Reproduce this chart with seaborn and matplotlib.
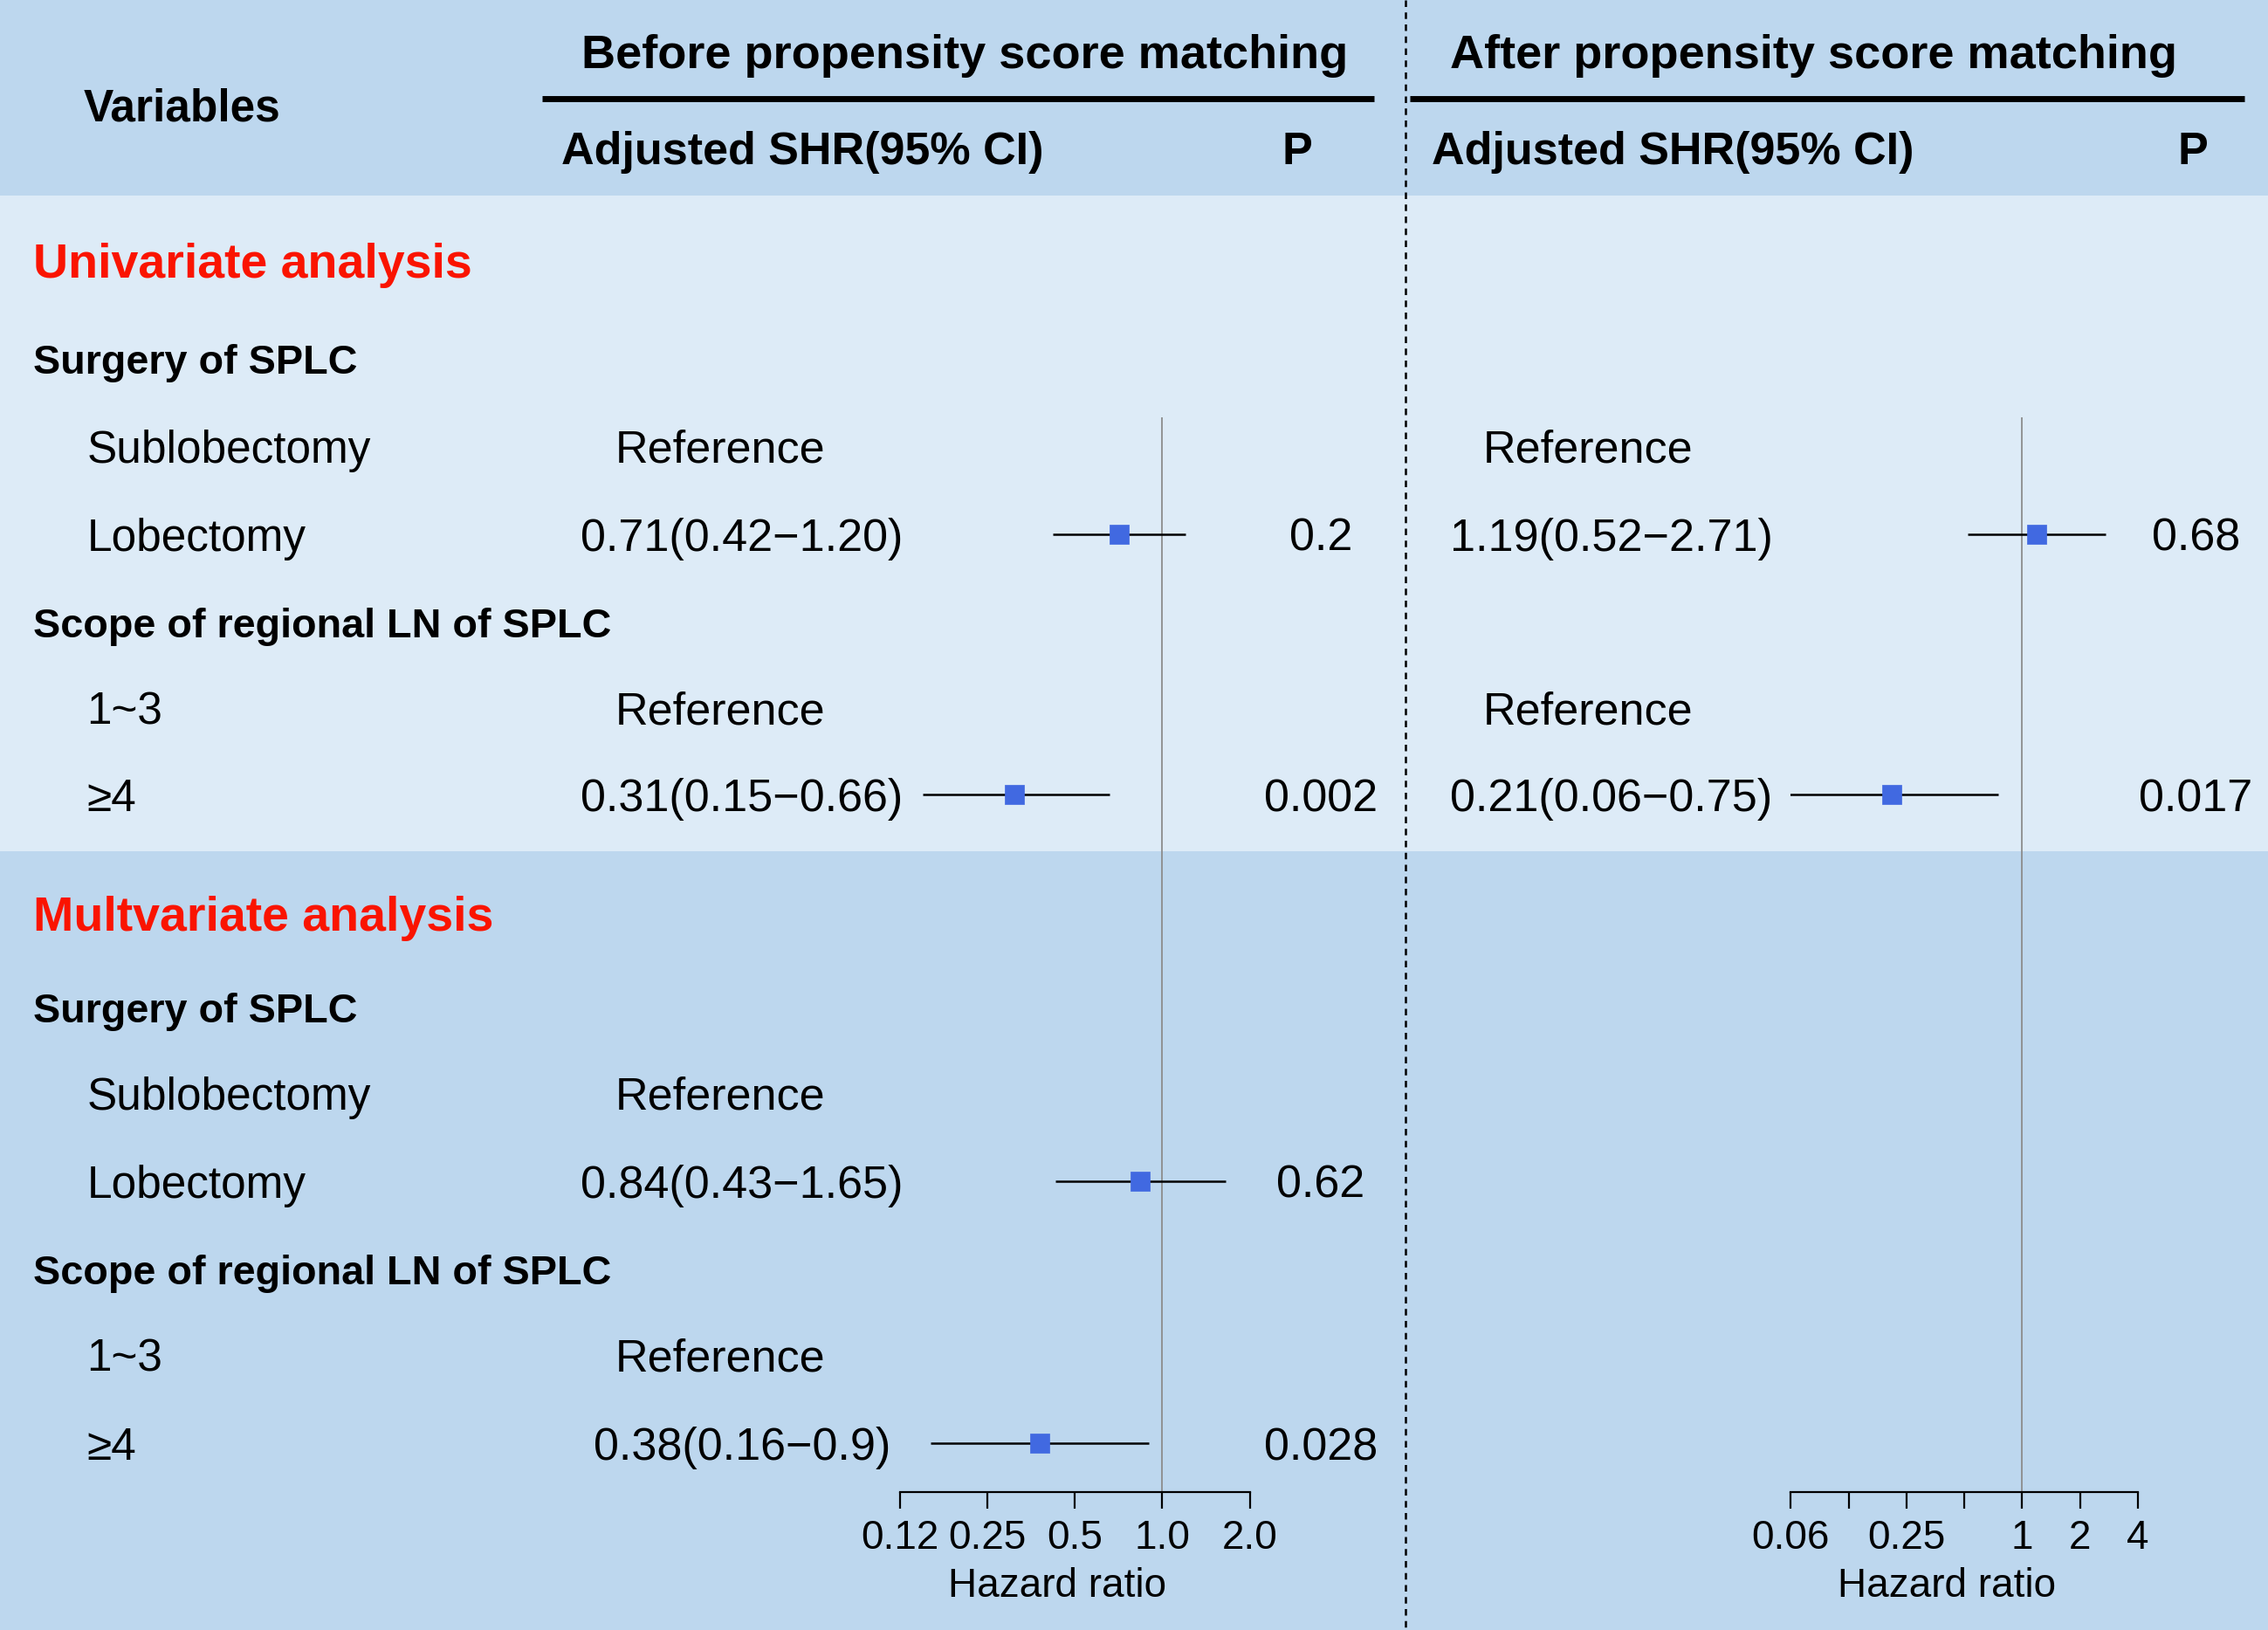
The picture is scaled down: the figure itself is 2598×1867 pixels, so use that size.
"""
Forest table: competing-risk SHR before / after propensity score matching
"""

import numpy as np
import pandas as pd
import matplotlib
matplotlib.use("Agg")
import matplotlib.pyplot as plt
import seaborn as sns

# ---- table data ----
labels = ["Univariate analysis", "Surgery of SPLC", "Sublobectomy", "Lobectomy",
          "Scope of regional LN of SPLC", "1~3", "≥4",
          "Multvariate analysis", "Surgery of SPLC", "Sublobectomy", "Lobectomy",
          "Scope of regional LN of SPLC", "1~3", "≥4"]
kinds = ["section", "group", "item", "item", "group", "item", "item",
         "section", "group", "item", "item", "group", "item", "item"]

nan = np.nan
before_hr = [nan, nan, nan, 0.71, nan, nan, 0.31, nan, nan, nan, 0.84, nan, nan, 0.38]
before_lo = [nan, nan, nan, 0.42, nan, nan, 0.15, nan, nan, nan, 0.43, nan, nan, 0.16]
before_hi = [nan, nan, nan, 1.20, nan, nan, 0.66, nan, nan, nan, 1.65, nan, nan, 0.9]
before_txt = ["", "", "Reference", "0.71(0.42−1.20)", "", "Reference", "0.31(0.15−0.66)",
              "", "", "Reference", "0.84(0.43−1.65)", "", "Reference", "0.38(0.16−0.9)"]
before_p = ["", "", "", "0.2", "", "", "0.002", "", "", "", "0.62", "", "", "0.028"]

after_hr = [nan, nan, nan, 1.19, nan, nan, 0.21, nan, nan, nan, nan, nan, nan, nan]
after_lo = [nan, nan, nan, 0.52, nan, nan, 0.06, nan, nan, nan, nan, nan, nan, nan]
after_hi = [nan, nan, nan, 2.71, nan, nan, 0.75, nan, nan, nan, nan, nan, nan, nan]
after_txt = ["", "", "Reference", "1.19(0.52−2.71)", "", "Reference", "0.21(0.06−0.75)",
             "", "", "", "", "", "", ""]
after_p = ["", "", "", "0.68", "", "", "0.017", "", "", "", "", "", "", ""]

before_ticks = [0.125, 0.25, 0.5, 1, 2]
before_ticklabels = ["0.12", "0.25", "0.5", "1.0", "2.0"]
after_ticks = [0.0625, 0.125, 0.25, 0.5, 1, 2, 4]
after_ticklabels = ["0.06", "", "0.25", "", "1", "2", "4"]

# ---- layout (units = reference pixels at 1568 x 1126) ----
W, H = 1568, 1126
row_y = [180, 248, 308, 369, 430, 489, 549, 631, 696, 755, 816, 877, 936, 997]
AX_TOP, AX_BOT = 288, 1031

HEAD_BG = "#BDD7EE"
LIGHT_BG = "#DDEBF7"
BOX = "#4169E1"
RED = "#FA1400"


def forest(ax, hr, lo, hi, xmin, xmax, ticks, ticklabels):
    df = pd.DataFrame({"hr": hr, "lo": lo, "hi": hi, "y": row_y}).dropna()
    ax.hlines(df["y"], df["lo"], df["hi"], color="black", lw=1.8, zorder=2)
    sns.scatterplot(data=df, x="hr", y="y", marker="s", s=250, color=BOX,
                    edgecolor=BOX, linewidth=0.5, ax=ax, zorder=3)
    ax.axvline(1, color="#8c8c8c", lw=1.3, zorder=1)
    ax.set_xscale("log", base=2)
    ax.set_xlim(xmin, xmax)
    ax.set_ylim(AX_BOT, AX_TOP)
    ax.set_xticks(ticks)
    ax.set_xticklabels(ticklabels)
    ax.minorticks_off()
    ax.tick_params(axis="x", bottom=True, direction="out", length=14, width=1.6,
                   pad=8, labelsize=33, colors="black")
    ax.set_yticks([])
    ax.set_xlabel("")
    ax.set_ylabel("")
    for s in ["top", "left", "right"]:
        ax.spines[s].set_visible(False)
    ax.spines["bottom"].set_linewidth(1.6)
    ax.spines["bottom"].set_color("black")
    ax.patch.set_alpha(0)


def main():
    sns.set_theme(style="white")
    plt.rcParams["font.family"] = ["Liberation Sans", "DejaVu Sans"]
    plt.rcParams["text.color"] = "black"

    fig = plt.figure(figsize=(25.98, 18.67), dpi=100)
    ax = fig.add_axes([0, 0, 1, 1])
    ax.set_xlim(0, W)
    ax.set_ylim(H, 0)
    ax.axis("off")

    # background bands
    ax.axhspan(0, 135, color=HEAD_BG, lw=0)
    ax.axhspan(135, 588, color=LIGHT_BG, lw=0)
    ax.axhspan(588, H, color=HEAD_BG, lw=0)

    # header
    bold = dict(fontweight="bold", color="black", va="center_baseline")
    ax.text(58, 72, "Variables", ha="left", fontsize=37, **bold)
    ax.text(667, 35, "Before propensity score matching", ha="center", fontsize=39, **bold)
    ax.text(1254, 35, "After propensity score matching", ha="center", fontsize=39, **bold)
    ax.plot([375, 950], [68, 68], color="black", lw=5, solid_capstyle="butt")
    ax.plot([975, 1552], [68, 68], color="black", lw=5, solid_capstyle="butt")
    ax.text(388, 102, "Adjusted SHR(95% CI)", ha="left", fontsize=37.5, **bold)
    ax.text(897, 102, "P", ha="center", fontsize=37.5, **bold)
    ax.text(990, 102, "Adjusted SHR(95% CI)", ha="left", fontsize=37.5, **bold)
    ax.text(1516, 102, "P", ha="center", fontsize=37.5, **bold)

    # separator
    ax.plot([972, 972], [0, H], color="black", lw=1.8, ls=(0, (3, 2.5)))

    # rows
    for i, (lab, kind) in enumerate(zip(labels, kinds)):
        y = row_y[i]
        if kind == "section":
            ax.text(23, y, lab, color=RED, fontweight="bold", fontsize=40,
                    ha="left", va="center_baseline")
        elif kind == "group":
            ax.text(23, y, lab, color="black", fontweight="bold", fontsize=33.7,
                    ha="left", va="center_baseline")
        else:
            ax.text(60, y, lab, color="black", fontsize=37,
                    ha="left", va="center_baseline")

        for txt, xv, xr in [(before_txt[i], 513, 498), (after_txt[i], 1114, 1098)]:
            if txt:
                ax.text(xr if txt == "Reference" else xv, y, txt, fontsize=37.5,
                        ha="center", va="center_baseline", color="black")
        if before_p[i]:
            ax.text(913, y, before_p[i], fontsize=37.5, ha="center",
                    va="center_baseline", color="black")
        if after_p[i]:
            ax.text(1518, y, after_p[i], fontsize=37.5, ha="center",
                    va="center_baseline", color="black")

    # forest panels
    def frame(x0, x1):
        return [x0 / W, 1 - AX_BOT / H, (x1 - x0) / W, (AX_BOT - AX_TOP) / H]

    ax_b = fig.add_axes(frame(622, 864))
    forest(ax_b, before_hr, before_lo, before_hi, 0.125, 2, before_ticks, before_ticklabels)
    ax_a = fig.add_axes(frame(1238, 1478))
    forest(ax_a, after_hr, after_lo, after_hi, 0.0625, 4, after_ticks, after_ticklabels)

    ax.text(731, 1093, "Hazard ratio", fontsize=33, ha="center", va="center_baseline",
            color="black")
    ax.text(1346, 1093, "Hazard ratio", fontsize=33, ha="center", va="center_baseline",
            color="black")

    fig.savefig("out.png", dpi=100)


if __name__ == "__main__":
    main()
